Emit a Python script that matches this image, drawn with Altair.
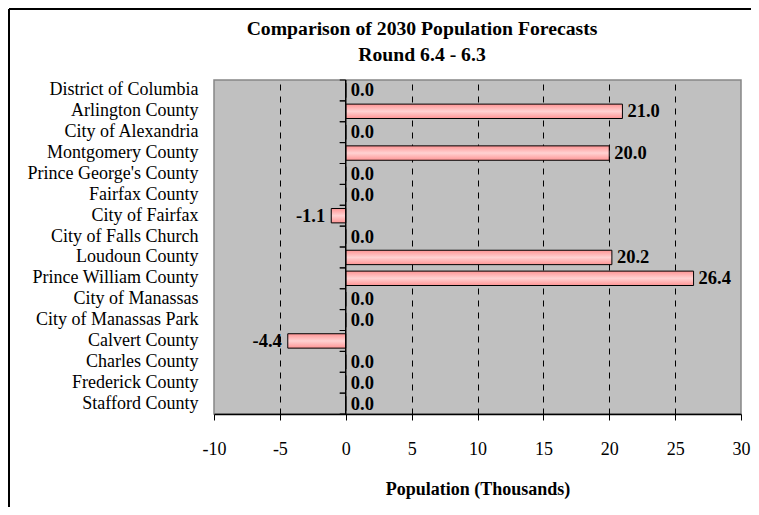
import altair as alt
import pandas as pd

counties = [
    "District of Columbia", "Arlington County", "City of Alexandria",
    "Montgomery County", "Prince George's County", "Fairfax County",
    "City of Fairfax", "City of Falls Church", "Loudoun County",
    "Prince William County", "City of Manassas", "City of Manassas Park",
    "Calvert County", "Charles County", "Frederick County", "Stafford County",
]
values = [0.0, 21.0, 0.0, 20.0, 0.0, 0.0, -1.1, 0.0, 20.2, 26.4, 0.0, 0.0,
          -4.4, 0.0, 0.0, 0.0]
x_ticks = [-10, -5, 0, 5, 10, 15, 20, 25, 30]
title_lines = ["Comparison of 2030 Population Forecasts", "Round 6.4 - 6.3"]

df = pd.DataFrame({"county": counties, "value": values})
df["label"] = [f"{v:.1f}" for v in values]
one = pd.DataFrame({"a": [0]})

FONT = "Liberation Serif"
W, H = 527, 334
PL, PT = 206, 72

xscale = alt.Scale(domain=[-10, 30], nice=False, zero=False)
yscale = alt.Scale(domain=counties, paddingInner=0, paddingOuter=0)

base = alt.Chart(df)

bars = base.mark_bar(
    height={"band": 0.69},
    color=alt.Gradient(
        gradient="linear",
        stops=[
            alt.GradientStop(color="#ff9494", offset=0),
            alt.GradientStop(color="#ffd2d2", offset=0.5),
            alt.GradientStop(color="#ff9494", offset=1),
        ],
        x1=0, x2=0, y1=0, y2=1,
    ),
    stroke="black",
    strokeWidth=1,
).encode(
    x=alt.X(
        "value:Q",
        scale=xscale,
        axis=alt.Axis(
            values=x_ticks, grid=True, gridColor="black", gridDash=[6, 6],
            gridWidth=1,
            gridOpacity={"condition": {"test": "datum.value == -10 || datum.value == 30 || datum.value == 0", "value": 0}, "value": 1},
            domainColor="black", domainWidth=1.5,
            tickColor="black", tickSize=6, labelFontSize=18, labelFont=FONT,
            labelColor="black", labelPadding=20, labelFlush=False,
            labelExpr="'' + datum.value",
            title="Population (Thousands)", titleFont=FONT, titleFontSize=18,
            titleFontWeight="bold", titleColor="black", titleBaseline="top",
            titleY=66, titleX=W / 2,
        ),
    ),
    y=alt.Y(
        "county:N",
        sort=counties,
        scale=yscale,
        axis=alt.Axis(
            orient="left", domain=False, ticks=False, labelPadding=16,
            labelFontSize=18, labelFont=FONT, labelColor="black", title=None,
            labelLimit=300,
        ),
    ),
)

zero_line = alt.Chart(one).mark_rule(color="black", strokeWidth=1.5).encode(
    x=alt.X(datum=0, scale=xscale)
)

zero_ticks_top = base.mark_rule(color="black", strokeWidth=1, x2Offset=-6).encode(
    x=alt.X(datum=0, scale=xscale),
    x2=alt.X2(datum=0),
    y=alt.Y("county:N", sort=counties, scale=yscale, bandPosition=0),
)
zero_ticks_bottom = base.mark_rule(color="black", strokeWidth=1, x2Offset=-6).encode(
    x=alt.X(datum=0, scale=xscale),
    x2=alt.X2(datum=0),
    y=alt.Y("county:N", sort=counties, scale=yscale, bandPosition=1),
)

pos_labels = base.transform_filter("datum.value >= 0").mark_text(
    align="left", baseline="middle", dx=5, font=FONT, fontSize=18.5,
    fontWeight="bold", color="black",
).encode(
    x=alt.X("value:Q", scale=xscale),
    y=alt.Y("county:N", sort=counties, scale=yscale),
    text="label:N",
)

neg_labels = base.transform_filter("datum.value < 0").mark_text(
    align="right", baseline="middle", dx=-6, font=FONT, fontSize=18.5,
    fontWeight="bold", color="black",
).encode(
    x=alt.X("value:Q", scale=xscale),
    y=alt.Y("county:N", sort=counties, scale=yscale),
    text="label:N",
)

title1 = alt.Chart(one).mark_text(
    text=title_lines[0], font=FONT, fontSize=19.7, fontWeight="bold",
    color="black", align="center", baseline="alphabetic",
).encode(x=alt.value(208), y=alt.value(-45))
title2 = alt.Chart(one).mark_text(
    text=title_lines[1], font=FONT, fontSize=19.7, fontWeight="bold",
    color="black", align="center", baseline="alphabetic",
).encode(x=alt.value(208), y=alt.value(-19))

frame_left = alt.Chart(one).mark_rule(color="black", strokeWidth=2).encode(
    x=alt.value(-PL + 1), y=alt.value(-PT + 1), y2=alt.value(H + 100)
)
frame_top = alt.Chart(one).mark_rule(color="black", strokeWidth=2).encode(
    x=alt.value(-PL + 1), x2=alt.value(W + 20), y=alt.value(-PT + 1)
)

chart = alt.layer(
    bars, zero_line, zero_ticks_top, zero_ticks_bottom, pos_labels, neg_labels,
    title1, title2, frame_left, frame_top
).properties(
    width=W,
    height=H,
    autosize=alt.AutoSizeParams(type="none"),
    padding={"left": PL, "top": PT, "right": 10, "bottom": 93},
).configure(background="white").configure_view(
    fill="#c0c0c0", stroke="#868686", strokeWidth=1.5
)

chart.save("out.html", embed_options={"renderer": "svg", "actions": False})
